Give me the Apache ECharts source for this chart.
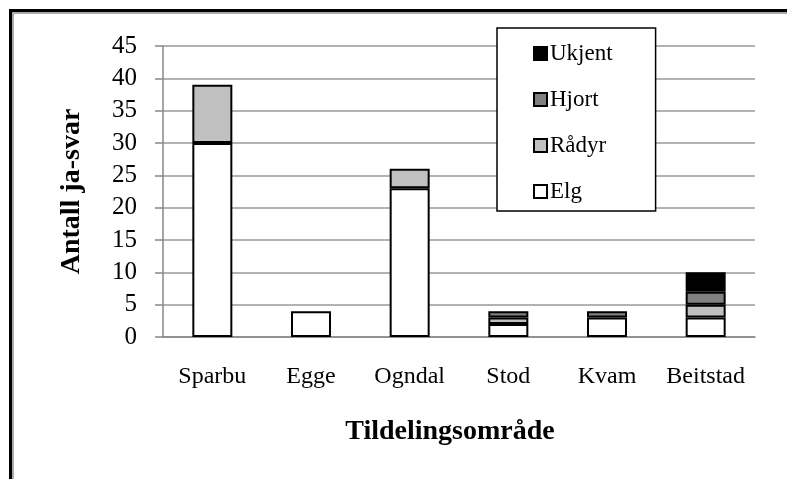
<!DOCTYPE html>
<html>
<head>
<meta charset="utf-8">
<script src="https://cdn.jsdelivr.net/npm/echarts@6/dist/echarts.min.js"></script>
<style>
    html, body { margin: 0; padding: 0; background: #fff; }
    #chart { width: 787px; height: 479px; }
</style>
</head>
<body>
<div id="chart"></div>
<script>
var categories = ['Sparbu', 'Egge', 'Ogndal', 'Stod', 'Kvam', 'Beitstad'];
var elg = [30, 4, 23, 2, 3, 3];
var radyr = [9, 0, 3, 1, 0, 2];
var hjort = [0, 0, 0, 1, 1, 2];
var ukjent = [0, 0, 0, 0, 0, 3];
var yTicks = [0, 5, 10, 15, 20, 25, 30, 35, 40, 45];

window.onload = function () {
    var chart = echarts.init(document.getElementById('chart'));
    var serif = '"Liberation Serif", "DejaVu Serif", serif';

    // 0 betyr ingen del av stolpen
    function clean(arr) {
        return arr.map(function (v) { return v === 0 ? null : v; });
    }

    function bar(name, data, color) {
        return {
            name: name,
            type: 'bar',
            stack: 'total',
            barWidth: 40,
            data: clean(data),
            itemStyle: {
                color: color,
                borderColor: '#000',
                borderWidth: 2
            }
        };
    }

    var option = {
        backgroundColor: '#fff',
        animation: false,
        title: {
            text: 'Tildelingsområde',
            left: 445,
            top: 413,
            textAlign: 'center',
            textStyle: {fontFamily: serif, fontSize: 28, fontWeight: 'bold', color: '#000'}
        },
        legend: {
            orient: 'vertical',
            left: 497,
            top: 28,
            data: ['Ukjent', 'Hjort', 'Rådyr', 'Elg'],
            backgroundColor: '#fff',
            borderColor: '#000',
            borderWidth: 1.5,
            borderRadius: 0,
            padding: [14, 43, 8, 36],
            itemWidth: 13,
            itemHeight: 13,
            itemGap: 23,
            icon: 'rect',
            textStyle: {fontFamily: serif, fontSize: 23, color: '#000', padding: [0, 0, 0, -2]}
        },
        grid: {
            left: 163,
            right: 32,
            top: 46,
            bottom: 142
        },
        xAxis: {
            type: 'category',
            data: categories,
            axisLine: {lineStyle: {color: '#888', width: 1.5}},
            axisTick: {length: 7, lineStyle: {color: '#888', width: 1.5}},
            axisLabel: {interval: 0, fontFamily: serif, fontSize: 24, color: '#000', margin: 28}
        },
        yAxis: {
            type: 'value',
            min: yTicks[0],
            max: yTicks[yTicks.length - 1],
            interval: 5,
            name: 'Antall ja-svar',
            nameLocation: 'middle',
            nameGap: 77,
            nameTextStyle: {fontFamily: serif, fontSize: 28, fontWeight: 'bold', color: '#000'},
            axisLine: {show: true, lineStyle: {color: '#888', width: 1.5}},
            axisTick: {show: true, length: 8, lineStyle: {color: '#888', width: 1.5}},
            axisLabel: {fontFamily: serif, fontSize: 25, color: '#000', margin: 26},
            splitLine: {lineStyle: {color: '#999', width: 1.5}}
        },
        series: [
            bar('Elg', elg, '#ffffff'),
            bar('Rådyr', radyr, '#c0c0c0'),
            bar('Hjort', hjort, '#808080'),
            bar('Ukjent', ukjent, '#000000')
        ],
        graphic: [
            {type: 'line', shape: {x1: 9, y1: 10.5, x2: 787, y2: 10.5}, style: {stroke: '#000', lineWidth: 3}},
            {type: 'line', shape: {x1: 10.5, y1: 9, x2: 10.5, y2: 479}, style: {stroke: '#000', lineWidth: 3}},
            {type: 'line', shape: {x1: 12, y1: 13, x2: 787, y2: 13}, style: {stroke: '#aaa', lineWidth: 2}},
            {type: 'line', shape: {x1: 13, y1: 12, x2: 13, y2: 479}, style: {stroke: '#aaa', lineWidth: 2}}
        ]
    };
    chart.setOption(option);
};
</script>
</body>
</html>
